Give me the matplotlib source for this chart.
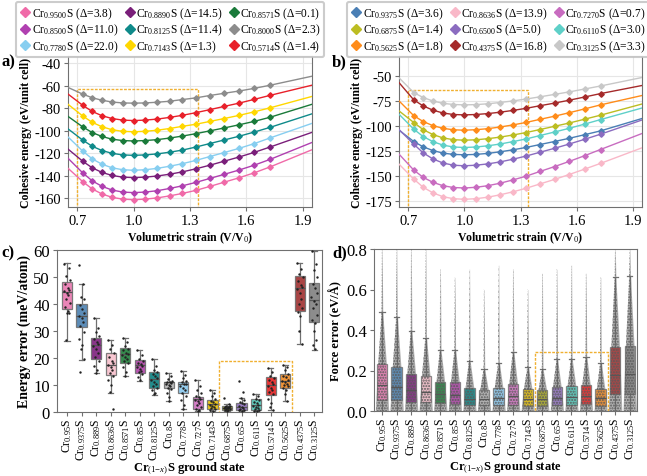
import numpy as np
import matplotlib
matplotlib.use("Agg")
import matplotlib.pyplot as plt
from matplotlib.lines import Line2D
from matplotlib.patches import Rectangle

plt.rcParams.update({
    "font.family": "Liberation Serif",
    "mathtext.fontset": "custom",
    "mathtext.rm": "Liberation Serif",
    "mathtext.it": "Liberation Serif:italic",
    "mathtext.bf": "Liberation Serif:bold",
    "axes.edgecolor": "#707070",
    "xtick.color": "#707070",
    "ytick.color": "#707070",
    "xtick.labelcolor": "black",
    "ytick.labelcolor": "black",
})

# volumetric strain grid (first / last points only for the fitted line ends)
strain = [0.65, 0.729, 0.779, 0.831, 0.885, 0.941, 1.0, 1.061, 1.125, 1.191,
          1.26, 1.331, 1.405, 1.482, 1.561, 1.643, 1.728, 1.95]

# ---- panel a: cohesive energies (eV/unit cell)
a_names = ["0.9500", "0.8890", "0.8571", "0.8500", "0.8125", "0.8000", "0.7780", "0.7143", "0.5714"]
a_delta = ["3.8", "14.5", "0.1", "11.0", "11.4", "2.3", "22.0", "1.3", "1.4"]
a_colors = ["#f06aa8", "#7a1f7a", "#1a7a3a", "#b040b0", "#0f8a8a", "#8c8c8c", "#87cef0", "#ffd700", "#e8202a"]
a_energy = [
    [-133.5, -145.5, -151.9, -156.4, -159.4, -161.0, -161.5, -161.0, -159.9, -158.1, -155.9, -153.2, -149.7, -145.9, -142.0, -137.5, -132.2, -117.0],
    [-116.4, -127.3, -133.1, -137.2, -139.9, -141.4, -141.8, -141.4, -140.4, -138.8, -136.7, -134.0, -130.8, -127.2, -123.5, -119.3, -114.5, -101.5],
    [-87.3, -96.7, -101.7, -105.2, -107.6, -108.8, -109.2, -108.8, -108.0, -106.6, -104.8, -102.7, -100.2, -97.6, -94.8, -91.7, -88.0, -76.5],
    [-124.6, -137.7, -144.7, -149.6, -152.9, -154.7, -155.2, -154.7, -153.5, -151.5, -149.1, -146.1, -142.6, -138.9, -135.1, -130.7, -125.5, -110.5],
    [-98.4, -108.5, -113.9, -117.7, -120.2, -121.6, -122.0, -121.6, -120.7, -119.2, -117.3, -114.6, -111.5, -108.3, -105.0, -101.2, -97.0, -85.0],
    [-61.5, -67.5, -70.7, -72.9, -74.5, -75.3, -75.5, -75.3, -74.7, -73.8, -72.3, -70.8, -68.7, -66.7, -64.7, -62.3, -59.5, -51.5],
    [-105.6, -118.3, -125.1, -129.9, -133.1, -134.8, -135.3, -134.8, -133.6, -131.7, -129.4, -126.5, -123.1, -119.5, -115.8, -111.5, -106.4, -93.5],
    [-76.5, -87.0, -92.6, -96.5, -99.2, -100.6, -101.0, -100.6, -99.6, -98.1, -96.1, -94.3, -91.8, -89.2, -86.4, -83.2, -79.6, -69.5],
    [-67.4, -77.5, -82.9, -86.7, -89.2, -90.6, -91.0, -90.6, -89.7, -88.2, -86.3, -84.0, -81.3, -78.4, -75.5, -72.1, -68.5, -59.5],
]

# ---- panel b
b_names = ["0.9375", "0.8636", "0.7270", "0.6875", "0.6500", "0.6110", "0.5625", "0.4375", "0.3125"]
b_delta = ["3.6", "13.9", "0.7", "1.4", "5.0", "3.0", "1.8", "16.8", "3.3"]
b_colors = ["#4a7fb5", "#f9b8c8", "#c86cc0", "#bcbd22", "#8b6cc0", "#5fd0c8", "#ff8c1a", "#a52a2a", "#c8c8c8"]
b_energy = [
    [-104.2, -115.5, -120.8, -124.5, -127.1, -128.4, -128.8, -128.4, -127.4, -125.8, -123.8, -121.4, -118.5, -115.5, -112.3, -108.7, -104.9, -92.5],
    [-138.1, -153.1, -161.2, -166.8, -170.7, -172.7, -173.3, -172.7, -171.2, -168.8, -165.8, -162.2, -157.9, -153.4, -148.5, -143.1, -137.4, -121.8],
    [-128.1, -144.1, -151.3, -156.3, -159.7, -161.5, -162.0, -161.3, -159.7, -157.2, -153.9, -150.1, -145.4, -140.6, -135.4, -129.7, -123.5, -107.5],
    [-84.9, -96.5, -103.6, -108.5, -111.9, -113.7, -114.2, -113.8, -112.7, -111.1, -109.0, -106.5, -103.5, -100.3, -97.0, -93.2, -89.2, -78.0],
    [-103.5, -118.2, -126.8, -132.9, -137.0, -139.2, -139.8, -139.2, -137.9, -135.9, -133.2, -130.0, -126.2, -122.3, -118.0, -113.3, -108.2, -94.0],
    [-88.2, -103.2, -110.5, -115.6, -119.1, -121.0, -121.5, -121.0, -119.8, -118.0, -115.6, -112.9, -109.5, -106.0, -102.3, -98.1, -93.6, -82.0],
    [-74.9, -89.7, -95.5, -99.6, -102.3, -103.8, -104.2, -103.7, -102.7, -101.0, -98.9, -96.4, -93.3, -90.2, -86.7, -82.9, -78.9, -69.5],
    [-56.6, -73.9, -79.9, -84.1, -87.0, -88.5, -88.9, -88.5, -87.6, -86.2, -84.4, -82.3, -79.7, -77.1, -74.2, -71.0, -67.6, -59.5],
    [-51.8, -66.6, -71.5, -75.0, -77.3, -78.5, -78.9, -78.6, -77.8, -76.5, -74.9, -73.0, -70.8, -68.4, -65.9, -63.0, -60.0, -51.5],
]

# ---- panels c, d: ground states
gs_labels = ["0.95", "0.9375", "0.889", "0.8636", "0.8571", "0.85", "0.8125", "0.8", "0.778",
             "0.727", "0.7143", "0.6875", "0.65", "0.611", "0.5714", "0.5625", "0.4375", "0.3125"]
gs_colors = ["#e878b0", "#4a80b0", "#7c1f7c", "#f8c0cc", "#1e7d3a", "#b040a8", "#0a8080", "#b5b5b5", "#88c8ee",
             "#d070c0", "#e8c000", "#a8a820", "#9070c0", "#50c8b8", "#e82020", "#f08820", "#a03030", "#808080"]

# energy error boxes (meV/atom): whislo, q1, median, q3, whishi
e_whislo = [26.3, 19.1, 14.5, 7.2, 13.3, 11.5, 6.3, 4.1, 1.0, 0.4, 0.4, 0.4, 0.3, 0.2, 0.6, 4.1, 25.1, 23.1]
e_q1 = [38.3, 31.5, 19.5, 13.7, 18.1, 14.6, 9.0, 8.8, 6.9, 1.2, 1.2, 0.9, 0.7, 0.7, 6.3, 9.0, 37.4, 33.3]
e_med = [44.6, 35.7, 25.0, 17.4, 21.4, 17.4, 12.3, 11.0, 10.2, 4.7, 2.8, 1.6, 1.9, 2.5, 9.9, 11.5, 45.8, 41.4]
e_q3 = [48.3, 39.9, 27.5, 22.0, 23.7, 19.1, 14.9, 11.2, 11.2, 5.7, 4.6, 2.3, 3.2, 4.7, 13.0, 14.0, 50.4, 47.7]
e_whishi = [55.1, 47.5, 34.9, 26.7, 27.5, 22.8, 19.5, 14.6, 15.2, 11.9, 8.0, 3.0, 5.1, 6.8, 16.2, 17.4, 55.1, 59.6]
e_points = [
    [55.0, 53.5, 50.2, 49.0, 47.5, 46.0, 45.2, 44.8, 44.0, 43.2, 42.0, 40.5, 39.0, 37.5, 36.8, 36.5, 26.5],
    [54.6, 47.3, 42.5, 41.8, 39.5, 38.0, 36.5, 35.5, 34.8, 33.5, 32.0, 29.5, 27.0, 25.0, 23.5, 19.5, 14.8],
    [34.8, 31.0, 29.5, 28.0, 27.2, 26.0, 25.2, 24.5, 23.5, 22.0, 20.5, 19.0, 17.0, 15.5, 14.5],
    [26.5, 25.0, 23.5, 22.0, 20.5, 19.0, 18.0, 17.5, 16.8, 15.5, 14.5, 13.5, 12.0, 10.0, 7.5, 1.2],
    [27.5, 26.0, 24.5, 23.5, 22.8, 22.0, 21.5, 21.0, 20.2, 19.5, 18.8, 18.0, 16.5, 15.0, 13.5],
    [22.8, 21.0, 19.5, 19.0, 18.2, 17.8, 17.2, 16.8, 16.0, 15.2, 14.8, 14.0, 13.0, 12.0],
    [19.5, 17.0, 15.5, 14.8, 14.0, 13.2, 12.5, 12.0, 11.0, 10.2, 9.5, 9.0, 8.0, 7.0, 6.5],
    [14.6, 13.5, 12.2, 11.5, 11.2, 11.0, 10.8, 10.5, 10.0, 9.5, 9.0, 8.5, 7.0, 5.5, 4.2],
    [15.2, 13.8, 12.5, 11.5, 11.0, 10.5, 10.2, 9.8, 9.0, 8.0, 7.2, 6.0, 4.5, 2.5, 1.0],
    [11.8, 9.5, 8.2, 7.0, 6.0, 5.5, 5.0, 4.6, 4.0, 3.2, 2.5, 1.8, 1.2, 0.8, 0.4],
    [8.0, 7.0, 5.8, 4.8, 4.2, 3.6, 3.0, 2.6, 2.2, 1.8, 1.5, 1.2, 0.8, 0.4],
    [5.1, 2.8, 2.4, 2.2, 2.0, 1.8, 1.7, 1.6, 1.5, 1.3, 1.2, 1.0, 0.9, 0.6, 0.4],
    [11.4, 7.5, 5.2, 4.5, 3.8, 3.2, 2.8, 2.2, 1.9, 1.6, 1.2, 0.9, 0.6, 0.3],
    [6.8, 5.8, 5.0, 4.5, 3.8, 3.2, 2.6, 2.4, 2.0, 1.5, 1.0, 0.7, 0.4, 0.2],
    [16.2, 15.0, 13.5, 12.5, 12.0, 11.0, 10.2, 9.8, 9.0, 8.2, 7.5, 6.5, 5.0, 3.5, 2.0, 0.6],
    [17.4, 16.8, 15.5, 14.2, 13.5, 12.8, 12.0, 11.5, 11.0, 10.5, 10.0, 9.5, 9.0, 8.0, 6.5, 4.2],
    [55.2, 53.0, 51.0, 50.0, 48.5, 47.0, 46.2, 45.5, 44.0, 42.0, 40.0, 38.5, 37.0, 35.5, 30.0, 25.2],
    [59.5, 55.0, 52.5, 50.0, 47.5, 46.0, 44.0, 42.5, 41.2, 40.0, 38.5, 36.0, 34.0, 33.0, 30.0, 26.5, 25.0, 23.2],
]

# force error boxes (eV/A)
f_q1 = [0.053, 0.053, 0.046, 0.043, 0.039, 0.036, 0.028, 0.030, 0.030, 0.030, 0.026, 0.026, 0.028, 0.028, 0.033, 0.026, 0.082, 0.085]
f_med = [0.127, 0.118, 0.102, 0.095, 0.082, 0.079, 0.061, 0.059, 0.064, 0.072, 0.059, 0.059, 0.066, 0.069, 0.074, 0.062, 0.179, 0.181]
f_q3 = [0.230, 0.217, 0.184, 0.171, 0.145, 0.145, 0.115, 0.102, 0.115, 0.135, 0.107, 0.102, 0.118, 0.125, 0.126, 0.108, 0.315, 0.319]
f_whishi = [0.488, 0.463, 0.394, 0.360, 0.300, 0.300, 0.246, 0.207, 0.238, 0.291, 0.217, 0.209, 0.255, 0.258, 0.269, 0.238, 0.660, 0.669]
f_max = [0.80, 0.80, 0.80, 0.80, 0.70, 0.66, 0.70, 0.60, 0.72, 0.70, 0.60, 0.68, 0.70, 0.72, 0.68, 0.66, 0.80, 0.80]

W, H = 647, 477
fig = plt.figure(figsize=(W / 100, H / 100), dpi=100)


def px_axes(l, t, r, b):
    return fig.add_axes([l / W, 1 - b / H, (r - l) / W, (b - t) / H])


def eos_panel(ax, energies, colors, ylim, yticks, rect_top):
    for e, c in zip(energies, colors):
        ax.plot(strain, e, color=c, lw=1.0, zorder=3)
        ax.plot(strain[1:-1], e[1:-1], ls="none", marker="D", ms=2.8, color=c, zorder=4)
    ax.set_xlim(0.65, 1.95)
    ax.set_ylim(*ylim)
    ax.set_xticks([0.7, 1.0, 1.3, 1.6, 1.9])
    ax.set_yticks(yticks)
    ax.set_yticklabels([str(v) for v in yticks])
    ax.grid(True, color="#e6e6e6", lw=0.8, zorder=0)
    ax.tick_params(labelsize=10.5, length=3, pad=2)
    ax.add_patch(Rectangle((0.7, ylim[0] - 5), 0.64, rect_top - ylim[0] + 5, fill=False,
                           ec="#f0b030", ls=(0, (2, 1)), lw=1.0, zorder=2, clip_on=True))
    ax.set_xlabel(r"Volumetric strain (V/V$_0$)", fontweight="bold", fontsize=8.5, labelpad=2)
    ax.set_ylabel("Cohesive energy (eV/unit cell)", fontweight="bold", fontsize=8.5, labelpad=2)


def eos_legend(names, deltas, colors, x0):
    handles = [Line2D([0], [0], ls="none", marker="D", ms=5, color=c) for c in colors]
    labels = [r"Cr$_{%s}$S (Δ=%s)" % (n, d) for n, d in zip(names, deltas)]
    order = [0, 3, 6, 1, 4, 7, 2, 5, 8]
    leg = fig.legend([handles[i] for i in order], [labels[i] for i in order],
                     loc="upper left", bbox_to_anchor=(x0 / W, 1 - 3 / H), ncol=3,
                     fontsize=8.3, labelspacing=0.1, handletextpad=0.05, handlelength=1.0,
                     columnspacing=0.5, borderpad=0.3, frameon=True, fancybox=True,
                     borderaxespad=0.0)
    leg.get_frame().set_edgecolor("#c0c0c0")
    leg.get_frame().set_linewidth(1.5)


ax_a = px_axes(68, 57, 312, 208)
eos_panel(ax_a, a_energy, a_colors, (-168, -33.5), list(range(-40, -161, -20)), -62.5)
eos_legend(a_names, a_delta, a_colors, 16)

ax_b = px_axes(399, 57, 642, 208)
eos_panel(ax_b, b_energy, b_colors, (-181, -30), list(range(-50, -176, -25)), -64.3)
eos_legend(b_names, b_delta, b_colors, 347)

pos = np.arange(len(gs_labels))
jitter = [-0.18, 0.12, -0.04, 0.2, -0.12, 0.06, 0.16, -0.2, 0.0, 0.1, -0.08, 0.18, -0.15, 0.04, -0.02, 0.14, -0.1, 0.08]
xt_labels = [r"Cr$_{%s}$S" % s for s in gs_labels]


def style_boxes(ax, bp, colors, alpha):
    for patch, c in zip(bp["boxes"], colors):
        patch.set_facecolor(c)
        patch.set_alpha(alpha)
        patch.set_edgecolor("#707070")
        patch.set_linewidth(0.9)
    for key in ("whiskers", "caps"):
        for ln in bp[key]:
            ln.set_color("#707070")
            ln.set_linewidth(0.9)
    for ln in bp["medians"]:
        ln.set_color("#555555")
        ln.set_linewidth(0.9)


def gs_axis(ax):
    ax.set_xticks(pos)
    ax.set_xticklabels(xt_labels, rotation=90, fontsize=8.5)
    ax.tick_params(axis="y", labelsize=12, length=3, pad=2)
    ax.tick_params(axis="x", length=3, pad=1)
    ax.set_xlabel(r"Cr$_{(1\mathrm{-}x)}$S ground state", fontweight="bold", fontsize=9, labelpad=0)


# ---- panel c
ax_c = px_axes(57, 251, 322, 413)
stats_c = [dict(whislo=e_whislo[i], q1=e_q1[i], med=e_med[i], q3=e_q3[i], whishi=e_whishi[i])
           for i in range(len(gs_labels))]
bp = ax_c.bxp(stats_c, positions=pos, widths=0.7, patch_artist=True, showfliers=False,
              manage_ticks=False)
style_boxes(ax_c, bp, gs_colors, 0.9)
for i, pts in enumerate(e_points):
    xs = [i + jitter[k % len(jitter)] for k in range(len(pts))]
    ax_c.scatter(xs, pts, s=3, color="#222222", zorder=5, lw=0)
ax_c.add_patch(Rectangle((10.47, -1), 5.03, 20.0, fill=False, ec="#f0b030",
                         ls=(0, (2, 1)), lw=1.0, zorder=6))
ax_c.set_xlim(-0.69, 17.53)
ax_c.set_ylim(0, 60)
ax_c.set_yticks([0, 10, 20, 30, 40, 50, 60])
gs_axis(ax_c)
ax_c.set_ylabel("Energy error (meV/atom)", fontweight="bold", fontsize=10, labelpad=2)

# ---- panel d
ax_d = px_axes(374, 250, 637, 412)
for i in range(len(gs_labels)):
    ys = [0.0, f_q1[i], f_q3[i], f_whishi[i], f_max[i]]
    hw = [0.46, 0.42, 0.3, 0.05, 0.01]
    ax_d.fill_betweenx(ys, [i - h for h in hw], [i + h for h in hw], color="#7a7a7a",
                       alpha=0.6, lw=0, zorder=1)
stats_d = [dict(whislo=0.0, q1=f_q1[i], med=f_med[i], q3=f_q3[i], whishi=f_whishi[i])
           for i in range(len(gs_labels))]
bp = ax_d.bxp(stats_d, positions=pos, widths=0.7, patch_artist=True, showfliers=False,
              manage_ticks=False)
style_boxes(ax_d, bp, gs_colors, 0.8)
for i in range(len(gs_labels)):
    ys = [0.0, f_q1[i], f_q3[i], f_whishi[i], f_max[i]]
    hw = [0.4, 0.36, 0.26, 0.04, 0.01]
    ax_d.fill_betweenx(ys, [i - h for h in hw], [i + h for h in hw], facecolor="none",
                       edgecolor="#5a5a5a", hatch="......", lw=0, zorder=4)
ax_d.add_patch(Rectangle((10.53, -0.01), 4.98, 0.30, fill=False, ec="#f0b030",
                         ls=(0, (2, 1)), lw=1.0, zorder=6))
ax_d.set_xlim(-0.55, 17.5)
ax_d.set_ylim(0, 0.8)
ax_d.set_yticks([0.0, 0.2, 0.4, 0.6, 0.8])
ax_d.set_yticklabels(["0.0", "0.2", "0.4", "0.6", "0.8"])
gs_axis(ax_d)
ax_d.set_ylabel("Force error (eV/Å)", fontweight="bold", fontsize=9, labelpad=3)

for txt, x, y in [("a)", 1, 62), ("b)", 332, 62), ("c)", 1, 253), ("d)", 332, 253)]:
    fig.text(x / W, 1 - y / H, txt, fontsize=12, fontweight="bold", va="center", ha="left")

fig.savefig("out.png", dpi=100)
